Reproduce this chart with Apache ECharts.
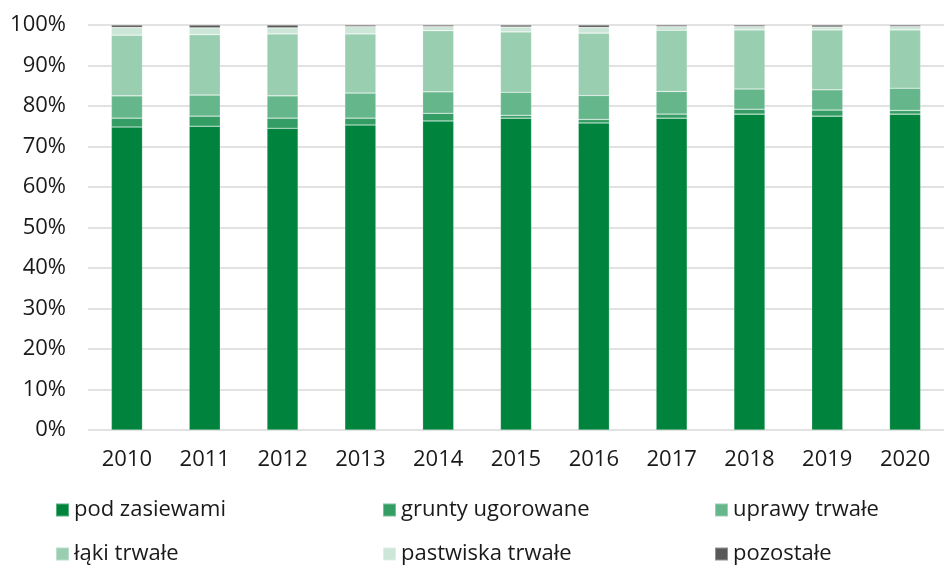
<!DOCTYPE html>
<html>
<head>
<meta charset="utf-8">
<script src="https://cdn.jsdelivr.net/npm/echarts@6/dist/echarts.min.js"></script>
<style>
  html, body { margin: 0; padding: 0; background: #fff; }
  #chart { width: 944px; height: 566px; }
</style>
</head>
<body>
<div id="chart"></div>
<script>
// lata
const years = ['2010', '2011', '2012', '2013', '2014', '2015', '2016', '2017', '2018', '2019', '2020']
// udział w %
const podZasiewami = [74.8, 75.0, 74.5, 75.3, 76.3, 77.0, 75.8, 77.0, 78.0, 77.5, 78.0]
const gruntyUgorowane = [2.2, 2.5, 2.5, 1.7, 1.9, 0.7, 0.9, 1.0, 1.2, 1.5, 0.9]
const uprawyTrwale = [5.5, 5.2, 5.5, 6.2, 5.3, 5.7, 5.9, 5.6, 5.0, 5.0, 5.5]
const lakiTrwale = [15.0, 14.9, 15.3, 14.6, 15.1, 14.9, 15.4, 15.1, 14.6, 14.8, 14.4]
const pastwiskaTrwale = [1.9, 1.7, 1.5, 1.8, 1.0, 1.2, 1.4, 0.9, 0.8, 0.7, 0.8]
const pozostale = [0.6, 0.7, 0.7, 0.4, 0.4, 0.5, 0.6, 0.4, 0.4, 0.5, 0.4]
const yTicks = [0, 10, 20, 30, 40, 50, 60, 70, 80, 90, 100]

const names = ['pod zasiewami', 'grunty ugorowane', 'uprawy trwałe', 'łąki trwałe', 'pastwiska trwałe', 'pozostałe']
const values = [podZasiewami, gruntyUgorowane, uprawyTrwale, lakiTrwale, pastwiskaTrwale, pozostale]
const colors = ['#00843D', '#339D64', '#66B68B', '#99CEB1', '#CCE6D8', '#595959']

const font = 'Open Sans'
const legendPos = [
  { left: 55, top: 499 }, { left: 382, top: 499 }, { left: 714, top: 499 },
  { left: 55, top: 543 }, { left: 382, top: 543 }, { left: 714, top: 543 }
]

let mychart = echarts.init(document.getElementById('chart'))
let option = {
  animation: false,
  color: colors,
  textStyle: { fontFamily: font },
  grid: { left: 88, top: 25, width: 863, bottom: 136 },
  legend: names.map((n, i) => ({
    data: [n],
    left: legendPos[i].left,
    top: legendPos[i].top,
    padding: 0,
    icon: 'rect',
    itemWidth: 13,
    itemHeight: 13,
    itemGap: 0,
    textStyle: { fontSize: 22, color: '#1a1a1a', fontFamily: font, padding: [0, 0, 0, 0] }
  })),
  xAxis: {
    type: 'category',
    data: years,
    axisLine: { show: false },
    axisTick: { show: false },
    axisLabel: { fontSize: 22, color: '#1a1a1a', margin: 19 }
  },
  yAxis: {
    type: 'value',
    min: 0,
    max: 100,
    interval: 10,
    axisLabel: {
      fontSize: 22,
      color: '#1a1a1a',
      margin: 22,
      formatter: v => (yTicks.includes(v) ? v + '%' : '')
    },
    splitLine: { lineStyle: { color: '#d9d9d9', width: 1.5 } }
  },
  series: names.map((n, i) => ({
    name: n,
    type: 'bar',
    stack: 'total',
    barWidth: '40%',
    data: values[i],
    itemStyle: { color: colors[i], borderColor: 'rgba(255,255,255,0.35)', borderWidth: 0.6 }
  }))
}
mychart.setOption(option)
</script>
</body>
</html>
